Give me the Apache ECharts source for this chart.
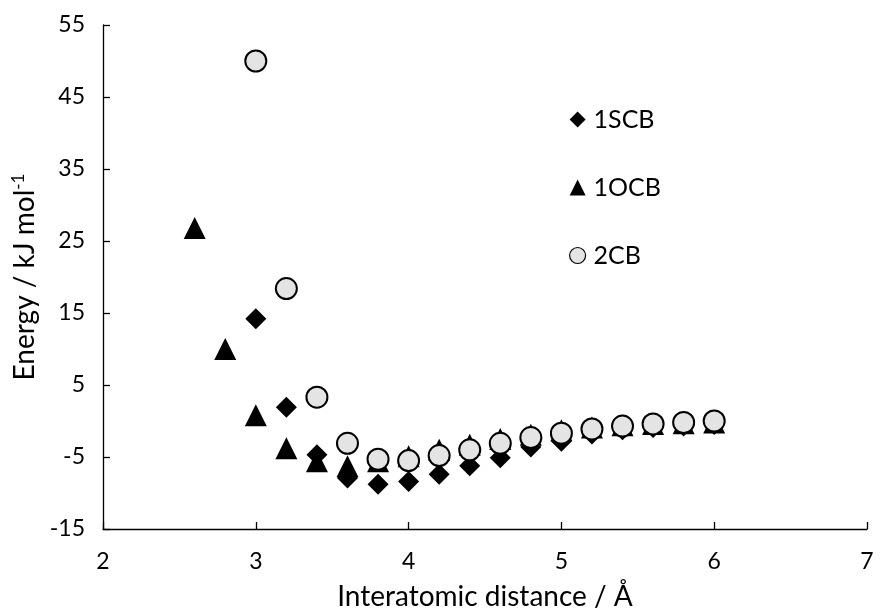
<!DOCTYPE html>
<html lang="en">
<head>
    <meta charset="UTF-8">
    <title>Energy vs distance</title>
    <script src="https://cdn.jsdelivr.net/npm/echarts@6.0.0/dist/echarts.min.js"></script>
    <style>
        html, body { margin: 0; padding: 0; background: #fff; }
        #viz { width: 880px; height: 616px; }
    </style>
</head>
<body>
    <div id="viz"></div>
    <script>
        // distances (Å)
        const dist = [2.6, 2.8, 3.0, 3.2, 3.4, 3.6, 3.8, 4.0, 4.2, 4.4, 4.6, 4.8, 5.0, 5.2, 5.4, 5.6, 5.8, 6.0];
        // energies (kJ/mol), null where no point
        const scb = [null, null, 14.2, 1.9, -4.7, -7.9, -8.8, -8.4, -7.4, -6.2, -5.1, -3.6, -2.8, -1.8, -1.2, -0.9, -0.7, -0.5];
        const ocb = [26.8, 10.0, 0.8, -3.8, -5.6, -6.3, -5.6, -4.9, -4.0, -3.3, -2.5, -1.9, -1.3, -0.9, -0.6, -0.4, -0.3, -0.2];
        const cb2 = [null, null, 50.0, 18.4, 3.3, -3.1, -5.3, -5.5, -4.8, -4.0, -3.1, -2.3, -1.7, -1.1, -0.7, -0.4, -0.2, 0.0];
        const seriesNames = ['1SCB', '1OCB', '2CB'];

        const font = 'Lato, "Open Sans", sans-serif';

        const pairs = (ys) => {
            const out = [];
            dist.forEach((x, i) => {
                if (ys[i] !== null) out.push([x, ys[i]]);
            });
            return out;
        };

        const option = {
            animation: false,
            backgroundColor: '#fff',
            textStyle: { fontFamily: font },
            grid: { left: 103, right: 13, top: 25, bottom: 86 },
            legend: {
                orient: 'vertical',
                left: 564,
                top: 102,
                itemGap: 43,
                itemWidth: 16,
                itemHeight: 16,
                itemStyle: { borderWidth: 0 },
                textStyle: { fontSize: 25, color: '#000', fontFamily: font, padding: [0, 0, 0, 3] },
                data: [
                    { name: seriesNames[0], icon: 'diamond', itemStyle: { color: '#000' } },
                    { name: seriesNames[1], icon: 'triangle', itemStyle: { color: '#000' } },
                    { name: seriesNames[2], icon: 'circle', itemStyle: { color: '#e4e4e4', borderColor: '#000', borderWidth: 1.2 } }
                ]
            },
            xAxis: {
                type: 'value',
                min: 2,
                max: 7,
                interval: 1,
                name: 'Interatomic distance / Å',
                nameLocation: 'middle',
                nameGap: 54,
                nameTextStyle: { fontSize: 28, color: '#000', fontFamily: font },
                axisLine: { onZero: false, lineStyle: { color: '#000', width: 1.3 } },
                axisTick: { inside: true, length: 7, lineStyle: { color: '#000', width: 1.3 } },
                axisLabel: { fontSize: 23, color: '#000', margin: 21, fontFamily: font },
                splitLine: { show: false }
            },
            yAxis: {
                type: 'value',
                min: -15,
                max: 55,
                interval: 10,
                name: '{n|Energy / kJ mol}{s|-1}',
                nameLocation: 'middle',
                nameRotate: 90,
                nameGap: 59,
                nameTextStyle: {
                    fontSize: 28,
                    color: '#000',
                    fontFamily: font,
                    rich: {
                        n: { fontSize: 28, color: '#000', fontFamily: font },
                        s: { fontSize: 17, color: '#000', fontFamily: font, verticalAlign: 'top', padding: [0, 0, 12, 0] }
                    }
                },
                axisLine: { show: true, onZero: false, lineStyle: { color: '#000', width: 1.3 } },
                axisTick: { show: true, inside: true, length: 7, lineStyle: { color: '#000', width: 1.3 } },
                axisLabel: { fontSize: 23, color: '#000', margin: 18, fontFamily: font },
                splitLine: { show: false }
            },
            series: [
                {
                    name: seriesNames[0],
                    type: 'scatter',
                    symbol: 'diamond',
                    symbolSize: 21,
                    itemStyle: { color: '#000', opacity: 1 },
                    data: pairs(scb)
                },
                {
                    name: seriesNames[1],
                    type: 'scatter',
                    symbol: 'triangle',
                    symbolSize: 22,
                    itemStyle: { color: '#000', opacity: 1 },
                    data: pairs(ocb)
                },
                {
                    name: seriesNames[2],
                    type: 'scatter',
                    symbol: 'circle',
                    symbolSize: 21,
                    itemStyle: { color: '#e4e4e4', borderColor: '#000', borderWidth: 2, opacity: 1 },
                    data: pairs(cb2)
                }
            ]
        };

        const chart = echarts.init(document.getElementById('viz'), null, { renderer: 'canvas' });
        chart.setOption(option);
        window.onresize = () => chart.resize();
    </script>
</body>
</html>
